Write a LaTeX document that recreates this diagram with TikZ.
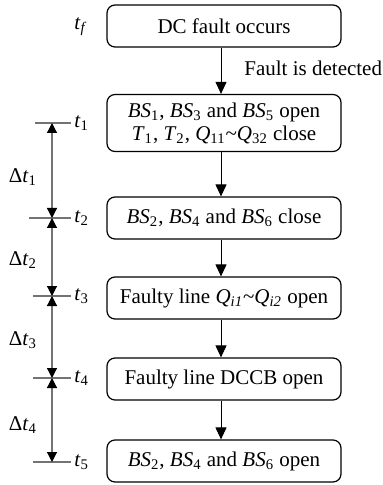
\documentclass[tikz,border=0pt]{standalone}
\usepackage{fontspec}
\setmainfont{Liberation Serif}
\usetikzlibrary{arrows.meta,calc}

% italic symbol with upright/italic subscript
\newcommand{\sym}[2]{\textit{#1}\textsubscript{#2}}
\newcommand{\symi}[2]{\textit{#1}\textsubscript{\textit{#2}}}

\begin{document}
\begin{tikzpicture}[x=0.5pt,y=-0.5pt,
  font=\fontsize{10.5}{12.5}\selectfont,
  stepbox/.style={draw, line width=0.6pt, rounded corners=4pt,
    minimum width=117pt, minimum height=21pt, inner sep=0pt, align=center},
  flow/.style={line width=0.5pt, -{Triangle[length=6pt,width=5.5pt]}},
  tick/.style={draw=black!55, line width=0.6pt},
  span/.style={draw=black!55, line width=0.6pt,
    {Triangle[length=5pt,width=5pt,fill=black,color=black]}-{Triangle[length=5pt,width=5pt,fill=black,color=black]}},
  tlab/.style={anchor=west, inner sep=0pt},
  dlab/.style={anchor=center, inner sep=0pt}]

\useasboundingbox (0,0) rectangle (383,485);

% process steps
\node[stepbox] (s1) at (224,26) {DC fault occurs};
\node[stepbox, minimum height=28.5pt] (s2) at (224,123)
  {\sym{BS}{1}, \sym{BS}{3} and \sym{BS}{5} open\\[-1pt]
   \sym{T}{1}, \sym{T}{2}, \sym{Q}{11}\textasciitilde\sym{Q}{32} close};
\node[stepbox] (s3) at (224,218) {\sym{BS}{2}, \sym{BS}{4} and \sym{BS}{6} close};
\node[stepbox] (s4) at (224,298) {Faulty line \symi{Q}{i1}\textasciitilde\symi{Q}{i2} open};
\node[stepbox] (s5) at (224,379) {Faulty line DCCB open};
\node[stepbox] (s6) at (224,461) {\sym{BS}{2}, \sym{BS}{4} and \sym{BS}{6} open};

% flow arrows
\foreach \a/\b in {s1/s2, s2/s3, s3/s4, s4/s5, s5/s6}
  \draw[flow] ($(\a.south)+(-3,0)$) -- ($(\b.north)+(-3,0)$);

\node[anchor=west, inner sep=0pt] (det) at (244,68) {Fault is detected};

% time marks
\node[tlab] (tf) at (74,27) {\symi{t}{f}};
\foreach \i/\y/\xl in {1/123/35, 2/218/29, 3/296/33, 4/378/33, 5/462/33}{
  \coordinate (L\i) at (\xl,\y);
  \coordinate (R\i) at (71,\y);
  \coordinate (m\i) at (52,\y);
  \draw[tick] (L\i) -- (R\i);
  \node[tlab] (t\i) at (74,\y) {\sym{t}{\i}};
}

% interval arrows
\foreach \i/\j in {1/2, 2/3, 3/4, 4/5}
  \draw[span] (m\i) -- (m\j);

\node[dlab] (d1) at (23,177) {Δ\sym{t}{1}};
\node[dlab] (d2) at (23,260) {Δ\sym{t}{2}};
\node[dlab] (d3) at (23,340) {Δ\sym{t}{3}};
\node[dlab] (d4) at (23,425) {Δ\sym{t}{4}};

\end{tikzpicture}
\end{document}
